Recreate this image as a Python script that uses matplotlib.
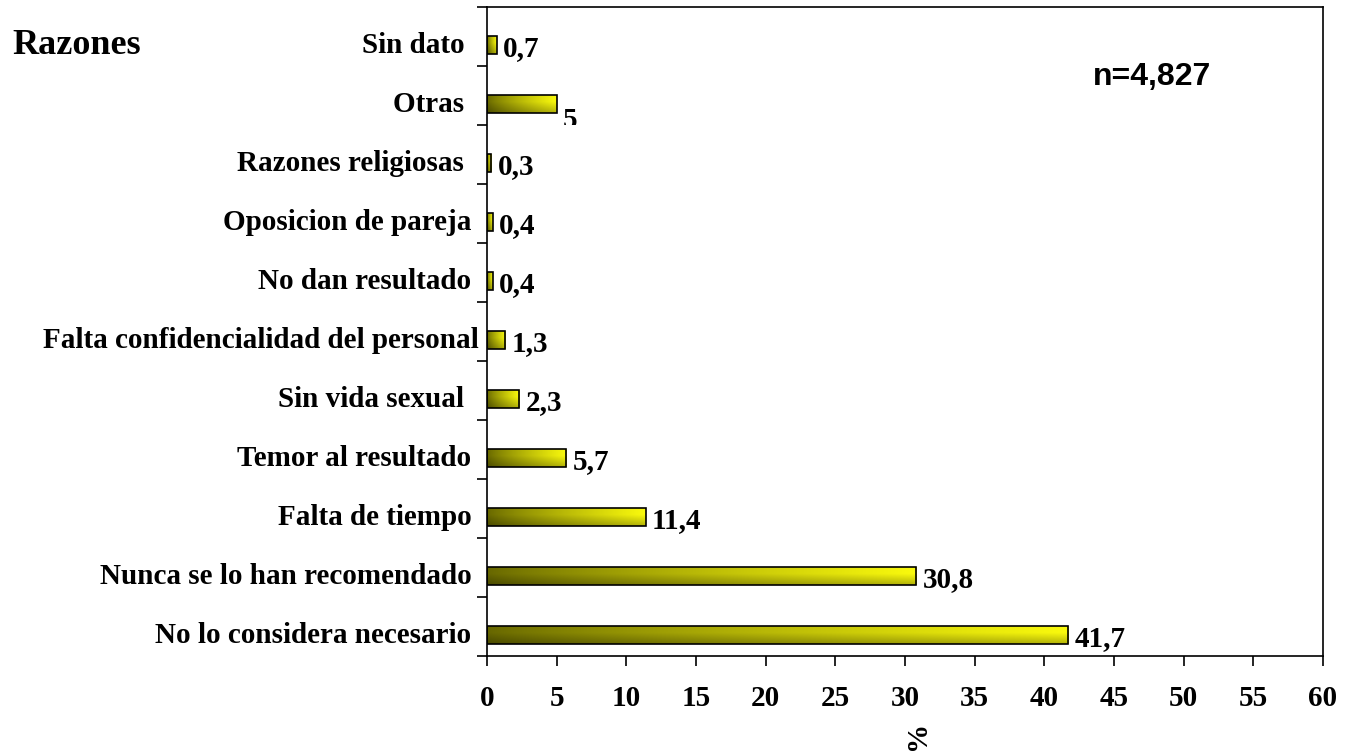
import numpy as np
import matplotlib.pyplot as plt
from matplotlib.transforms import Bbox, TransformedBbox

razones = ['No lo considera necesario ', 'Nunca se lo han recomendado ', 'Falta de tiempo ',
           'Temor al resultado ', 'Sin vida sexual  ', 'Falta confidencialidad del personal',
           'No dan resultado ', 'Oposicion de pareja ', 'Razones religiosas  ', 'Otras  ', 'Sin dato  ']
valores = [41.7, 30.8, 11.4, 5.7, 2.3, 1.3, 0.4, 0.4, 0.3, 5, 0.7]
etiquetas = ['41,7', '30,8', '11,4', '5,7', '2,3', '1,3', '0,4', '0,4', '0,3', '5', '0,7']

serif = ['Liberation Serif', 'DejaVu Serif']

fig = plt.figure(figsize=(13.55, 7.54), dpi=100)
ax = fig.add_axes([487 / 1355, 1 - 656 / 754, (1323 - 487) / 1355, (656 - 7) / 754])

pos = np.arange(len(razones))
desp = 0.15
alto = 0.31

bars = ax.barh(pos - desp, valores, height=alto, facecolor='none', edgecolor='black',
               linewidth=1.2, zorder=3)

# degradado oliva -> amarillo en cada barra
nx, ny = 200, 40
tx = np.linspace(0, 1, nx) ** 0.8
ty = np.linspace(0, 1, ny)
oscuro = np.array([0.40, 0.40, 0.0])
claro = np.array([0.98, 0.98, 0.05])
col = oscuro[None, None, :] + (claro - oscuro)[None, None, :] * tx[None, :, None]
vert = 0.72 + 0.28 * np.clip(ty / 0.6, 0, 1)
img = np.clip(col * vert[:, None, None], 0, 1)

for b in bars:
    x0, y0 = b.get_x(), b.get_y()
    w, h = b.get_width(), b.get_height()
    im = ax.imshow(img, extent=[x0, x0 + w, y0, y0 + h], origin='lower',
                   aspect='auto', zorder=2, interpolation='bilinear')
    im.set_clip_path(b)

ax.set_xlim(0, 60)
ax.set_ylim(-0.5, len(razones) - 0.5)

for i, (v, t) in enumerate(zip(valores, etiquetas)):
    if t == '5':
        # en el original esta etiqueta queda cortada por la franja de abajo
        txt = ax.text(v + 0.45, i - desp - 0.04, t, ha='left', va='top', fontsize=21,
                      fontweight='bold', family=serif)
        txt.set_clip_on(True)
        txt.set_clip_box(TransformedBbox(Bbox([[0, i - 0.5], [60, i + 0.5]]), ax.transData))
    else:
        ax.text(v + 0.45, i - desp - 0.05, t, ha='left', va='center', fontsize=21,
                fontweight='bold', family=serif)

ax.set_xticks(np.arange(0, 61, 5))
ax.set_xticklabels([str(x) for x in range(0, 61, 5)], fontsize=21, fontweight='bold',
                   family=serif)
ax.tick_params(axis='x', direction='out', length=7, width=1.2, pad=14)

ax.set_yticks(pos - 0.1)
ax.set_yticklabels(razones, fontsize=21, fontweight='bold', family=serif)
ax.tick_params(axis='y', which='major', length=0, pad=6)
ax.set_yticks(np.arange(-0.5, len(razones)), minor=True)
ax.tick_params(axis='y', which='minor', direction='out', length=7, width=1.2)

for s in ax.spines.values():
    s.set_linewidth(1.2)

fig.text(918 / 1355, 1 - 735 / 754, '%', fontsize=21, fontweight='bold', family=serif,
         rotation=90, ha='center', va='center')

fig.text(12 / 1355, 1 - 45 / 754, 'Razones', fontsize=26, fontweight='bold',
         family=serif, ha='left', va='center')
fig.text(1093 / 1355, 1 - 77 / 754, 'n=4,827', fontsize=23, fontweight='bold',
         family=['Liberation Sans', 'DejaVu Sans'], ha='left', va='center')

fig.savefig('out.png', dpi=100)
